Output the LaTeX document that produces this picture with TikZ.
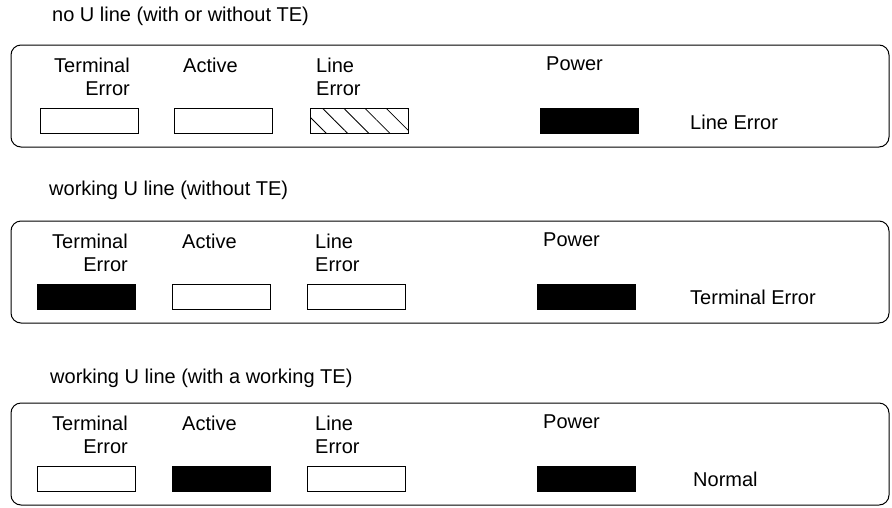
\documentclass[tikz,border=0pt]{standalone}
\usepackage{fontspec}
\setmainfont{Liberation Sans}
\usetikzlibrary{patterns.meta}

\begin{document}
\begin{tikzpicture}[x=1pt, y=-1pt,
    every node/.style={inner sep=0pt, font=\fontsize{20}{23}\selectfont},
    panel/.style={draw, line width=1pt, rounded corners=10pt, minimum width=878pt, minimum height=102pt},
    lamp/.style={draw, line width=1pt, minimum width=98pt, minimum height=25pt},
    lampon/.style={lamp, fill=black},
    lamphatch/.style={lamp, pattern={Lines[angle=-45, distance=15pt, line width=0.8pt]}}]
    \useasboundingbox (0,0) rectangle (892,507);

    % no U line
    \node[anchor=west] (hdA) at (52, 16) {no U line (with or without TE)};
    \node[panel] (boxA) at (450, 96) {};
    \node[anchor=north east, align=right] (teLabA) at (130, 58) {Terminal\\Error};
    \node[anchor=north west] (actLabA) at (183, 58) {Active};
    \node[anchor=north west, align=left] (leLabA) at (316, 58) {Line\\Error};
    \node[anchor=north west] (pwLabA) at (546, 57) {Power};
    \node[lamp] (teA) at (89, 120.5) {};
    \node[lamp] (actA) at (223, 120.5) {};
    \node[lamphatch] (leA) at (359, 120.5) {};
    \node[lampon] (pwA) at (589.5, 120.5) {};
    \node[anchor=west] (msgA) at (690, 122) {Line Error};

    % working U line, no TE
    \node[anchor=west] (hdB) at (49, 190) {working U line (without TE)};
    \node[panel] (boxB) at (450, 272) {};
    \node[anchor=north east, align=right] (teLabB) at (128, 234) {Terminal\\Error};
    \node[anchor=north west] (actLabB) at (182, 234) {Active};
    \node[anchor=north west, align=left] (leLabB) at (315, 234) {Line\\Error};
    \node[anchor=north west] (pwLabB) at (543, 233) {Power};
    \node[lampon] (teB) at (86.5, 296.5) {};
    \node[lamp] (actB) at (221.5, 296.5) {};
    \node[lamp] (leB) at (356.5, 296.5) {};
    \node[lampon] (pwB) at (586.5, 296.5) {};
    \node[anchor=west] (msgB) at (690, 297) {Terminal Error};

    % working U line, working TE
    \node[anchor=west] (hdC) at (50, 378) {working U line (with a working TE)};
    \node[panel] (boxC) at (450, 454) {};
    \node[anchor=north east, align=right] (teLabC) at (128, 416) {Terminal\\Error};
    \node[anchor=north west] (actLabC) at (182, 416) {Active};
    \node[anchor=north west, align=left] (leLabC) at (315, 416) {Line\\Error};
    \node[anchor=north west] (pwLabC) at (543, 415) {Power};
    \node[lamp] (teC) at (86.5, 478.5) {};
    \node[lampon] (actC) at (221.5, 478.5) {};
    \node[lamp] (leC) at (356.5, 478.5) {};
    \node[lampon] (pwC) at (586.5, 478.5) {};
    \node[anchor=west] (msgC) at (693, 479) {Normal};
\end{tikzpicture}
\end{document}
